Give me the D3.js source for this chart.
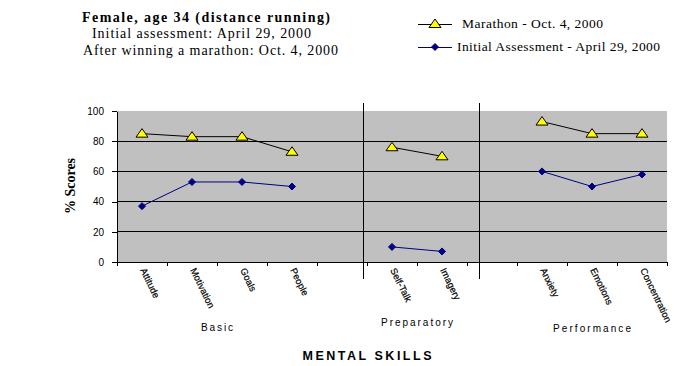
<!DOCTYPE html>
<html>
<head>
<meta charset="utf-8">
<script src="https://cdn.jsdelivr.net/npm/d3@7"></script>
<style>
  html, body { margin: 0; padding: 0; background: #fff; }
  svg { display: block; }
</style>
</head>
<body>
<svg id="chart" width="687" height="366"></svg>
<script>
// ---- data ----
const categories = ["Attitude", "Motivation", "Goals", "People", "", "Self-Talk", "Imagery", "", "Anxiety", "Emotions", "Concentration"];
const marathon = [85, 83, 83, 73, null, 76, 70, null, 93, 85, 85];
const initial = [37, 53, 53, 50, null, 10, 7, null, 60, 50, 58];
const groups = ["Basic", "Preparatory", "Performance"];
const groupMembers = [[0, 3], [5, 6], [8, 10]];
const yTicks = [0, 20, 40, 60, 80, 100];
const titleLines = ["Female, age 34 (distance running)", "Initial assessment: April 29, 2000", "After winning a marathon: Oct. 4, 2000"];
const seriesNames = ["Marathon - Oct. 4, 2000", "Initial Assessment - April 29, 2000"];

// ---- layout ----
const svg = d3.select("#chart");
const L = 117, R = 667, T = 111, B = 262;
const serif = "'Liberation Serif', 'Times New Roman', serif";
const sans = "'Liberation Sans', Arial, sans-serif";

const x = d3.scaleLinear().domain([0, categories.length]).range([L, R]);
const y = d3.scaleLinear().domain([0, 100]).range([B, T]);
const cx = i => x(i + 0.5);

// plot background
svg.append("rect").attr("x", L).attr("y", T).attr("width", R - L).attr("height", B - T).attr("fill", "#c0c0c0");

// gridlines
svg.append("g").selectAll("line").data(yTicks.filter(t => t > 0 && t < 100)).join("line")
  .attr("x1", L).attr("x2", R).attr("y1", d => y(d)).attr("y2", d => y(d))
  .attr("stroke", "#000").attr("stroke-width", 1).attr("shape-rendering", "crispEdges");

// y axis
const yAxis = svg.append("g").attr("transform", `translate(${L},0)`)
  .call(d3.axisLeft(y).tickValues(yTicks).tickSize(5).tickPadding(8).tickSizeOuter(0));
yAxis.select(".domain").attr("shape-rendering", "crispEdges");
yAxis.selectAll("line").attr("shape-rendering", "crispEdges");
yAxis.selectAll("text").attr("font-family", sans).attr("font-size", 10).attr("fill", "#000");

// x axis
const xAxis = svg.append("g").attr("transform", `translate(0,${B})`)
  .call(d3.axisBottom(x).tickValues(d3.range(categories.length + 1)).tickFormat("").tickSize(4).tickSizeOuter(0));
xAxis.select(".domain").attr("shape-rendering", "crispEdges");
xAxis.selectAll("line").attr("shape-rendering", "crispEdges");

// separators between groups
const sepSlots = [4.92, 7.24];
svg.append("g").selectAll("line").data(sepSlots).join("line")
  .attr("x1", d => x(d)).attr("x2", d => x(d)).attr("y1", 103).attr("y2", 279)
  .attr("stroke", "#000").attr("stroke-width", 1).attr("shape-rendering", "crispEdges");

// lines
const line = d3.line().defined(d => d.v != null).x(d => cx(d.i)).y(d => y(d.v));
const toPts = arr => arr.map((v, i) => ({ i, v }));
svg.append("path").datum(toPts(marathon)).attr("d", line).attr("fill", "none").attr("stroke", "#000").attr("stroke-width", 1);
svg.append("path").datum(toPts(initial)).attr("d", line).attr("fill", "none").attr("stroke", "#000080").attr("stroke-width", 1);

// markers
const tri = "M0,-5 L6,3.5 L-6,3.5 Z";
const dia = "M0,-3.5 L3.5,0 L0,3.5 L-3.5,0 Z";
svg.append("g").selectAll("path").data(toPts(initial).filter(d => d.v != null)).join("path")
  .attr("d", dia).attr("transform", d => `translate(${cx(d.i)},${y(d.v)})`)
  .attr("fill", "#000080").attr("stroke", "#000080").attr("stroke-width", 1);
svg.append("g").selectAll("path").data(toPts(marathon).filter(d => d.v != null)).join("path")
  .attr("d", tri).attr("transform", d => `translate(${cx(d.i)},${y(d.v)})`)
  .attr("fill", "#ffff00").attr("stroke", "#000").attr("stroke-width", 1);

// category labels (rotated)
svg.append("g").selectAll("text").data(categories.map((c, i) => ({ c, i })).filter(d => d.c)).join("text")
  .attr("transform", d => `translate(${cx(d.i) - 2},${270}) rotate(64)`)
  .attr("font-family", sans).attr("font-size", 9.5).attr("fill", "#000")
  .attr("stroke", "#000").attr("stroke-width", 0.2)
  .text(d => d.c);

// group labels
const groupY = [331, 326, 332];
const groupW = [32, 72, 78];
svg.append("g").selectAll("text").data(groups).join("text")
  .attr("x", (d, k) => (cx(groupMembers[k][0]) + cx(groupMembers[k][1])) / 2)
  .attr("y", (d, k) => groupY[k])
  .attr("text-anchor", "middle").attr("font-family", sans).attr("font-size", 10)
  .attr("textLength", (d, k) => groupW[k]).attr("lengthAdjust", "spacing")
  .text(d => d);

// x axis title
svg.append("text").attr("x", 367).attr("y", 360).attr("text-anchor", "middle")
  .attr("font-family", sans).attr("font-weight", "bold").attr("font-size", 12.5)
  .attr("textLength", 129).attr("lengthAdjust", "spacing")
  .text("MENTAL SKILLS");

// y axis title
svg.append("text").attr("transform", "translate(75,186) rotate(-90)").attr("text-anchor", "middle")
  .attr("font-family", serif).attr("font-weight", "bold").attr("font-size", 14)
  .text("% Scores");

// chart title
const titleX = [82, 92, 83];
const titleW = [248, 219, 255];
const titleY = [22, 38, 55];
svg.append("g").selectAll("text").data(titleLines).join("text")
  .attr("x", (d, k) => titleX[k]).attr("y", (d, k) => titleY[k])
  .attr("font-family", serif).attr("font-size", 14).attr("font-weight", (d, k) => k === 0 ? "bold" : "normal")
  .attr("textLength", (d, k) => titleW[k]).attr("lengthAdjust", "spacing")
  .text(d => d);

// legend
const legY = [24, 47];
const legTextX = [462, 457];
const legTextW = [141, 203];
const leg = svg.append("g");
leg.selectAll("line").data(seriesNames).join("line")
  .attr("x1", 418).attr("x2", 452).attr("y1", (d, k) => legY[k]).attr("y2", (d, k) => legY[k])
  .attr("stroke", (d, k) => k === 0 ? "#000" : "#000080").attr("shape-rendering", "crispEdges");
leg.append("path").attr("d", tri).attr("transform", `translate(435,${legY[0]})`).attr("fill", "#ffff00").attr("stroke", "#000");
leg.append("path").attr("d", dia).attr("transform", `translate(435,${legY[1]})`).attr("fill", "#000080").attr("stroke", "#000080");
leg.selectAll("text").data(seriesNames).join("text")
  .attr("x", (d, k) => legTextX[k]).attr("y", (d, k) => legY[k] + 4)
  .attr("font-family", serif).attr("font-size", 13.5)
  .attr("textLength", (d, k) => legTextW[k]).attr("lengthAdjust", "spacing")
  .text(d => d);
</script>
</body>
</html>
